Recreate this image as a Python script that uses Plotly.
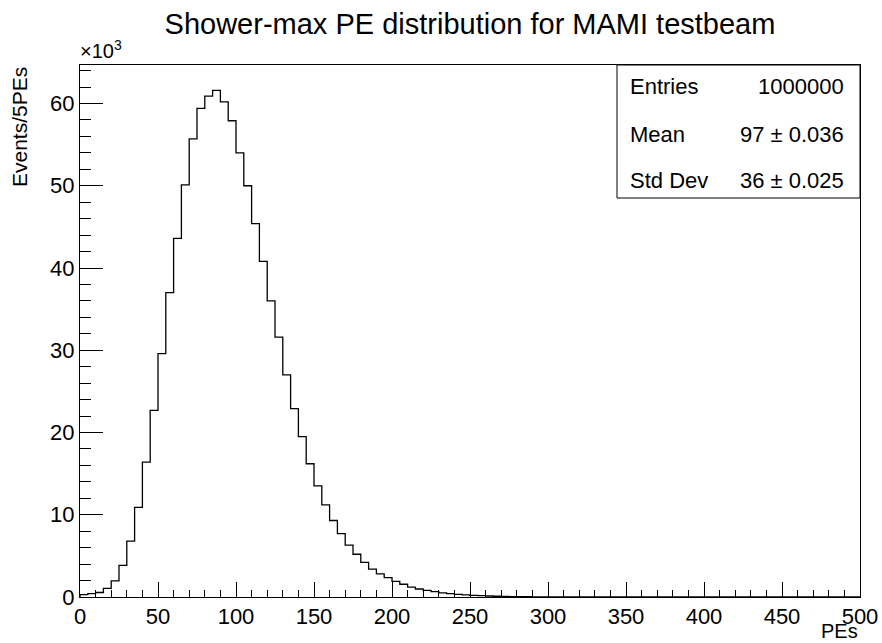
import plotly.graph_objects as go

# ---- data ----
bin_width = 5
bin_edges_start = [i * bin_width for i in range(100)]
counts = [300, 400, 550, 1050, 1950, 3850, 6800, 10900, 16400, 22700,
          29600, 37000, 43600, 50100, 55700, 59400, 60900, 61600, 60200, 57900,
          54000, 50000, 45400, 40800, 36000, 31600, 27000, 22900, 19500, 16200,
          13500, 11200, 9300, 7700, 6300, 5200, 4200, 3400, 2800, 2350,
          1900, 1550, 1200, 970, 800, 650, 500, 400, 320, 250,
          200, 160, 120, 90, 70, 50, 40, 30, 20, 15,
          10, 8, 6, 4, 3, 2, 1, 1] + [0] * 32

x_tick_vals = [0, 50, 100, 150, 200, 250, 300, 350, 400, 450, 500]
x_tick_text = ["0", "50", "100", "150", "200", "250", "300", "350", "400", "450", "500"]
y_tick_vals = [0, 10000, 20000, 30000, 40000, 50000, 60000]
y_tick_text = ["0", "10", "20", "30", "40", "50", "60"]

stats_labels = ["Entries", "Mean", "Std Dev"]
stats_values = ["1000000", "97 ± 0.036", "36 ± 0.025"]

title_text = "Shower-max PE distribution for MAMI testbeam"
x_title = "PEs"
y_title = "Events/5PEs"

# ---- figure ----
W, H = 882, 643
# frame in page pixels: x 80..860, y 65..597
L, R, T, B = 80, W - 860, 65, H - 597
FONT = "Liberation Sans, Arial, Helvetica, sans-serif"

def px_x(p):  # page pixel -> paper x
    return (p - 80) / (860 - 80)

def px_y(p):  # page pixel -> paper y
    return (597 - p) / (597 - 65)

xs = [0] + bin_edges_start + [bin_edges_start[-1] + bin_width]
ys = [0] + counts + [counts[-1]]

fig = go.Figure()
fig.add_trace(go.Scatter(x=xs, y=ys, mode="lines", line=dict(shape="hv", color="black", width=1.3),
                         hoverinfo="skip", showlegend=False))

ymax = max(counts) * 1.05

fig.update_layout(
    width=W, height=H,
    margin=dict(l=L, r=R, t=T, b=B, autoexpand=False),
    paper_bgcolor="white", plot_bgcolor="white",
    font=dict(family=FONT, color="black", size=22),
    title=dict(text=title_text, x=470 / W, xanchor="center",
               y=1 - 24 / H, yanchor="middle", font=dict(size=29, family=FONT)),
    xaxis=dict(range=[0, 500], tickvals=x_tick_vals, ticktext=x_tick_text,
               ticks="inside", ticklen=15, tickcolor="black", tickwidth=1,
               minor=dict(ticks="inside", ticklen=7, dtick=10, tickcolor="black", tickwidth=1, showgrid=False),
               showgrid=False, zeroline=False, showline=True, linecolor="black", linewidth=1, mirror=True,
               tickfont=dict(size=22, family=FONT)),
    yaxis=dict(range=[0, ymax], tickvals=y_tick_vals, ticktext=y_tick_text,
               ticks="inside", ticklen=23, tickcolor="black", tickwidth=1,
               minor=dict(ticks="inside", ticklen=11, dtick=2000, tickcolor="black", tickwidth=1, showgrid=False),
               showgrid=False, zeroline=False, showline=True, linecolor="black", linewidth=1, mirror=True,
               tickfont=dict(size=22, family=FONT)),
)

ann = []
# x axis title
ann.append(dict(text=x_title, xref="paper", yref="paper", x=1, y=px_y(631), xanchor="right", yanchor="middle",
                showarrow=False, font=dict(size=20, family=FONT)))
# y axis title
ann.append(dict(text=y_title, xref="paper", yref="paper", x=px_x(19), y=1, xanchor="center", yanchor="top",
                textangle=-90, showarrow=False, font=dict(size=21, family=FONT)))
# exponent
ann.append(dict(text="×10<sup>3</sup>", xref="paper", yref="paper", x=px_x(78), y=px_y(64), xanchor="left",
                yanchor="bottom", showarrow=False, font=dict(size=20, family=FONT)))

# stats box
fig.add_shape(type="rect", xref="paper", yref="paper", x0=px_x(617), x1=1, y0=px_y(198), y1=1,
              line=dict(color="black", width=1), fillcolor="white", layer="above")
row_y = [87, 134, 180]
for lab, val, yy in zip(stats_labels, stats_values, row_y):
    ann.append(dict(text=lab, xref="paper", yref="paper", x=px_x(628), y=px_y(yy), xanchor="left",
                    yanchor="middle", showarrow=False, font=dict(size=22, family=FONT)))
    ann.append(dict(text=val, xref="paper", yref="paper", x=px_x(846), y=px_y(yy), xanchor="right",
                    yanchor="middle", showarrow=False, font=dict(size=22, family=FONT)))

fig.update_layout(annotations=ann)
fig.write_html("out.html", config={"displayModeBar": False},
               post_script="document.body.style.margin='0';document.body.style.overflow='hidden';")
